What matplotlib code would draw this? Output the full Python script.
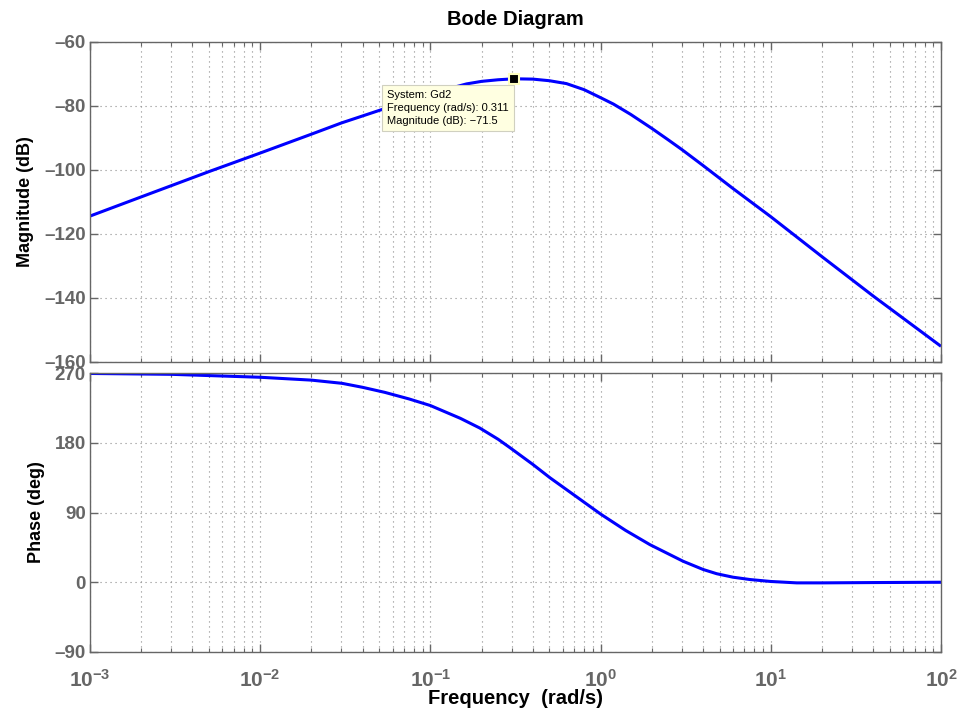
import math
import matplotlib
matplotlib.use("Agg")
import matplotlib.pyplot as plt
from matplotlib.ticker import LogLocator, FixedLocator, FuncFormatter, NullFormatter

plt.rcParams['font.family'] = ['Liberation Sans', 'DejaVu Sans']
plt.rcParams['mathtext.fontset'] = 'custom'
plt.rcParams['mathtext.rm'] = 'Liberation Sans'
plt.rcParams['mathtext.bf'] = 'Liberation Sans:bold'
plt.rcParams['axes.unicode_minus'] = True

# ---------------- data ----------------
mag_freq = [0.001, 0.002, 0.005, 0.01, 0.02, 0.03, 0.054, 0.08, 0.1, 0.13,
            0.163, 0.2, 0.25, 0.311, 0.4, 0.5, 0.63, 0.8, 1.0, 1.19, 1.5,
            2.0, 2.5, 3.0, 4.0, 6.0, 10.0, 20.0, 40.0, 100.0]
mag_db = [-114.4, -108.4, -100.5, -94.7, -88.8, -85.3, -80.8, -77.9, -76.4, -74.5,
          -73.1, -72.3, -71.8, -71.5, -71.6, -72.1, -73.0, -74.9, -77.4, -79.4, -82.6,
          -87.0, -90.6, -93.6, -98.6, -105.8, -114.6, -127.1, -139.4, -155.1]

ph_freq = [0.001, 0.003, 0.01, 0.02, 0.0302, 0.04, 0.054, 0.075, 0.1, 0.15, 0.195,
           0.25, 0.294, 0.4, 0.505, 0.7, 1.0, 1.4, 1.95, 3.06, 4.0, 4.81, 6.0, 7.55,
           10.0, 14.2, 20.0, 40.0, 100.0]
ph_deg = [269.4, 268.3, 264.5, 260.8, 256.7, 251.5, 245.0, 236.5, 228.0, 211.5, 199.0,
          184.5, 173.5, 152.0, 134.7, 112.4, 88.0, 67.0, 48.5, 27.0, 16.5, 11.0, 6.5, 3.5,
          1.0, -0.8, -0.8, -0.4, 0.0]

tip_freq = 0.311
tip_mag = -71.5
tip_text = "System: Gd2\nFrequency (rad/s): 0.311\nMagnitude (dB): \u221271.5"

mag_ticks = [-160, -140, -120, -100, -80, -60]
ph_ticks = [-90, 0, 90, 180, 270]
x_range = (1e-3, 1e2)

# ---------------- figure ----------------
W, H = 959, 715
fig = plt.figure(figsize=(W / 100, H / 100), dpi=100)
left = 90 / W
width = (941 - 90) / W
ax1 = fig.add_axes([left, 1 - 362 / H, width, 320 / H])
ax2 = fig.add_axes([left, 1 - 652 / H, width, 279 / H])

gray = '#666666'
gridc = '#8c8c8c'
blue = '#0000ff'

def style(ax, yt, ylim):
    ax.set_xscale('log')
    ax.set_xlim(*x_range)
    ax.set_ylim(*ylim)
    ax.yaxis.set_major_locator(FixedLocator(yt))
    ax.xaxis.set_major_locator(LogLocator(base=10, numticks=20))
    ax.xaxis.set_minor_locator(LogLocator(base=10, subs=range(2, 10), numticks=100))
    ax.xaxis.set_minor_formatter(NullFormatter())
    for s in ax.spines.values():
        s.set_color(gray)
        s.set_linewidth(1.0)
    ax.tick_params(which='both', direction='in', top=True, right=True, colors=gray)
    ax.tick_params(which='major', length=6, width=1.0)
    ax.tick_params(which='minor', length=3, width=0.8)
    ax.tick_params(axis='y', labelsize=13.5, pad=3)
    ax.tick_params(axis='x', labelsize=15, pad=12)
    ax.grid(True, which='major', axis='both', color=gridc, linestyle=(0, (1, 3.5)), linewidth=0.8)
    ax.grid(True, which='minor', axis='x', color=gridc, linestyle=(0, (1, 3.5)), linewidth=0.8)
    ax.set_axisbelow(True)

style(ax1, mag_ticks, (-160, -60))
style(ax2, ph_ticks, (-90, 270))

ax1.plot(mag_freq, mag_db, color=blue, linewidth=2.2, solid_capstyle='butt', solid_joinstyle='round')
ax2.plot(ph_freq, ph_deg, color=blue, linewidth=2.2, solid_capstyle='butt', solid_joinstyle='round')

ax1.xaxis.set_major_formatter(NullFormatter())
ax2.xaxis.set_major_formatter(FuncFormatter(lambda v, p: r'$\mathbf{10^{%d}}$' % round(math.log10(v))))
for ax in (ax1, ax2):
    ax.yaxis.set_major_formatter(FuncFormatter(lambda v, p: ('%d' % v).replace('-', '\u2013')))
    for lab in ax.get_yticklabels() + ax.get_xticklabels():
        lab.set_fontweight('bold')
        lab.set_color(gray)

ax1.set_title('Bode Diagram', fontsize=14.5, fontweight='bold', pad=12)
ax1.set_ylabel('Magnitude (dB)', fontsize=13, fontweight='bold', labelpad=7)
ax2.set_ylabel('Phase (deg)', fontsize=13, fontweight='bold', labelpad=7)
ax2.set_xlabel('Frequency  (rad/s)', fontsize=14.5, fontweight='bold', labelpad=-1)

# data tip
ax1.plot([tip_freq], [tip_mag], marker='s', markersize=6.5, color='black',
         markeredgecolor='#ffffc0', markeredgewidth=1.5, zorder=6)
ax1.annotate(tip_text, xy=(tip_freq, tip_mag), xytext=(-4, -8),
             textcoords='offset points', ha='right', va='top', fontsize=8,
             multialignment='left', linespacing=1.35,
             bbox=dict(boxstyle='square,pad=0.45', fc='#ffffe1', ec='#d0d0c0', lw=0.8),
             zorder=5)

fig.savefig('out.png', dpi=100)
